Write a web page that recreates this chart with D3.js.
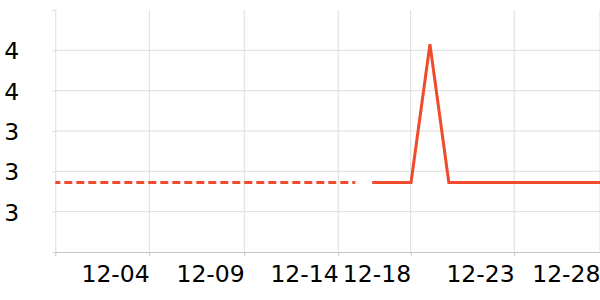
<!DOCTYPE html>
<html>
<head>
<meta charset="utf-8">
<script src="https://cdn.jsdelivr.net/npm/d3@7"></script>
<style>
    body { margin: 0; background: #fff; }
    #chart-area text { font-family: "DejaVu Sans", sans-serif; }
</style>
</head>
<body>
<div id="chart-area"></div>
<script>

// dashed part (earlier values) and solid part (later values)
let dashedDates = ["2023-11-29 12:40", "2023-11-30 09:00", "2023-12-01 09:00", "2023-12-02 09:00",
    "2023-12-03 09:00", "2023-12-04 09:00", "2023-12-05 09:00", "2023-12-06 09:00", "2023-12-07 09:00",
    "2023-12-08 09:00", "2023-12-09 09:00", "2023-12-10 09:00", "2023-12-11 09:00", "2023-12-12 09:00",
    "2023-12-13 09:00", "2023-12-14 09:00", "2023-12-15 09:40"];
let dashedValues = [3.145, 3.145, 3.145, 3.145, 3.145, 3.145, 3.145, 3.145, 3.145,
    3.145, 3.145, 3.145, 3.145, 3.145, 3.145, 3.145, 3.145];

let solidDates = ["2023-12-16 07:10", "2023-12-17 08:30", "2023-12-18 08:30", "2023-12-19 08:30",
    "2023-12-20 08:30", "2023-12-21 08:30", "2023-12-22 08:30", "2023-12-23 08:30", "2023-12-24 08:30",
    "2023-12-25 08:30", "2023-12-26 08:30", "2023-12-27 08:30", "2023-12-28 08:30"];
let solidValues = [3.145, 3.145, 3.145, 3.83, 3.145, 3.145, 3.145, 3.145, 3.145,
    3.145, 3.145, 3.145, 3.145];

// x ticks sit on particular timestamps
let xTickDates = ["2023-12-04 12:00", "2023-12-09 12:40", "2023-12-14 12:00",
    "2023-12-18 08:00", "2023-12-23 19:30", "2023-12-28 08:30"];
let xDomain = ["2023-11-29 12:40", "2023-12-28 08:30"];
let yTicks = [3.0, 3.2, 3.4, 3.6, 3.8];
let yDomain = [2.8, 4.0];

let parseTime = d3.timeParse("%Y-%m-%d %H:%M");
let formatDate = d3.timeFormat("%m-%d");

let margin = {top: 10, right: 0, bottom: 48, left: 55.3};
let width = 600 - margin.left - margin.right,
    height = 300 - margin.top - margin.bottom;

let svg = d3.select("#chart-area").append("svg")
    .attr("width", 600)
    .attr("height", 300)
    .append("g")
    .attr("transform", "translate(" + margin.left + "," + margin.top + ")");

let x = d3.scaleTime()
    .domain(xDomain.map(parseTime))
    .range([0, width]);

let y = d3.scaleLinear()
    .domain(yDomain)
    .range([height, 0]);

let lineColor = "#ef4b2c";
let gridColor = "#dcdcdc";

// grid
svg.append("g")
    .selectAll("line.hgrid")
    .data(yTicks)
    .enter().append("line")
    .attr("class", "hgrid")
    .attr("x1", 0).attr("x2", width)
    .attr("y1", d => y(d)).attr("y2", d => y(d))
    .attr("stroke", gridColor);

svg.append("g")
    .selectAll("line.vgrid")
    .data(xTickDates.map(parseTime))
    .enter().append("line")
    .attr("class", "vgrid")
    .attr("x1", d => x(d)).attr("x2", d => x(d))
    .attr("y1", 0).attr("y2", height)
    .attr("stroke", gridColor);

// axes
let yAxis = svg.append("g")
    .attr("class", "y-axis")
    .call(d3.axisLeft(y).tickValues(yTicks).tickFormat(d3.format(".0f")).tickSize(3).tickPadding(33));
yAxis.select(".domain").attr("stroke", gridColor);
yAxis.selectAll(".tick line").attr("stroke", gridColor);
yAxis.selectAll("text")
    .attr("font-size", 23.5)
    .attr("fill", "#000")
    .attr("dy", "0.36em");

let xAxis = svg.append("g")
    .attr("class", "x-axis")
    .attr("transform", "translate(0," + height + ")")
    .call(d3.axisBottom(x).tickValues([x.domain()[0]].concat(xTickDates.map(parseTime)))
        .tickFormat((d, i) => i === 0 ? "" : formatDate(d)).tickSize(4).tickSizeOuter(0));
xAxis.select(".domain").attr("stroke", "#c4c4c4");
xAxis.selectAll(".tick line").attr("stroke", "#c4c4c4");
xAxis.selectAll("text")
    .attr("font-size", 23.5)
    .attr("fill", "#000")
    .attr("text-anchor", "end")
    .attr("y", 0)
    .attr("dy", 0)
    .attr("transform", "translate(0,30)");

// lines
let line = d3.line()
    .x(d => x(d.date))
    .y(d => y(d.value));

let dashed = dashedDates.map((d, i) => ({date: parseTime(d), value: dashedValues[i]}));
let solid = solidDates.map((d, i) => ({date: parseTime(d), value: solidValues[i]}));

svg.append("path")
    .datum(dashed)
    .attr("d", line)
    .attr("fill", "none")
    .attr("stroke", lineColor)
    .attr("stroke-width", 3)
    .attr("stroke-dasharray", "8,4")
    .attr("stroke-dashoffset", 3);

svg.append("path")
    .datum(solid)
    .attr("d", line)
    .attr("fill", "none")
    .attr("stroke", lineColor)
    .attr("stroke-width", 3);

</script>
</body>
</html>
